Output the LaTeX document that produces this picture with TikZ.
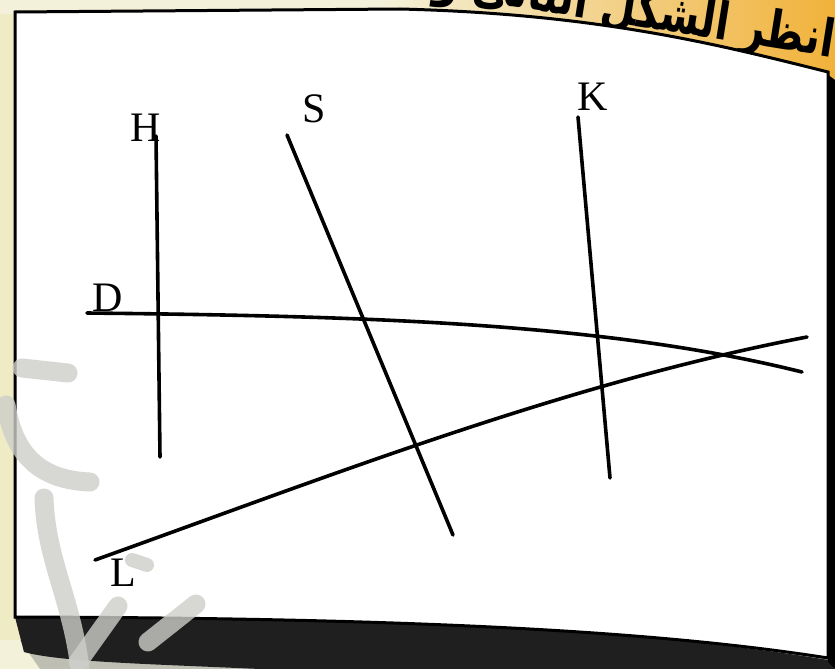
\documentclass[tikz,border=0pt]{standalone}
\usepackage{fontspec}
\usepackage{graphicx}
\setmainfont{Liberation Serif}
\newfontfamily\arabicfont[Script=Arabic]{DejaVu Sans}
\TeXXeTstate=1
\definecolor{bgcream}{HTML}{EFEBC4}
\definecolor{bgorange}{HTML}{F1B23A}
\definecolor{bglight}{HTML}{F4F1DA}
\definecolor{wmgray}{HTML}{CDCDCA}
\begin{document}
\begin{tikzpicture}[x=1pt,y=-1pt,
  geo/.style={line width=3.6pt,line cap=round},
  lbl/.style={font=\fontsize{42}{46}\selectfont,inner sep=0pt},
  wm/.style={draw=wmgray,line width=19pt,line cap=round,opacity=0.8}]
\useasboundingbox (0,0) rectangle (835,669);
% background
\fill[bgcream] (0,0) rectangle (835,669);
\shade[left color=bglight,right color=bgorange] (380,0) rectangle (835,90);
\fill[bglight] (0,0) rectangle (380,14);
\fill[bglight] (0,640) rectangle (835,669);
% header text
\node[anchor=south east,rotate=-9,inner sep=0pt,font=\arabicfont\bfseries\fontsize{40}{44}\selectfont] (head) at (830,70) {\scalebox{1}[1.3]{\beginR انظر الشكل التالى واستنتج\endR}};
% shadow under the box
\fill[black!45,opacity=0.5] (20,640) .. controls (250,660) and (600,650) .. (835,655) -- (835,669) -- (40,669) -- cycle;
\fill[black!88] (15,617) .. controls (400,618) and (650,630) .. (828,660) -- (835,669) -- (260,669) .. controls (150,664) and (60,662) .. (24,652) -- cycle;
\fill[black] (827,74) -- (835,80) -- (835,669) -- (828,662) -- cycle;
% white sheet with its border
\filldraw[fill=white,line width=3pt] (15,12) -- (400,9) .. controls (600,14) and (720,45) .. (828,72) -- (828,658) .. controls (650,630) and (400,618) .. (15,617) -- cycle;
% watermark
\draw[wm] (22,368) -- (68,373);
\draw[wm] (6,405) .. controls (14,455) and (40,480) .. (90,482);
\draw[wm] (44,498) .. controls (46,560) and (72,600) .. (80,669);
\draw[wm] (78,662) -- (118,606);
\draw[wm,line width=14pt] (132,560) -- (147,565);
\draw[wm] (148,642) -- (196,604);
% points of the figure
\coordinate (H1) at (156,136); \coordinate (H2) at (160,457);
\coordinate (S1) at (287,135); \coordinate (S2) at (453,535);
\coordinate (K1) at (578,117); \coordinate (K2) at (610,478);
\coordinate (D1) at (87,313);  \coordinate (D2) at (802,372);
\coordinate (L1) at (95,560);  \coordinate (L2) at (807,337);
% lines
\draw[geo] (H1) -- (H2);
\draw[geo] (S1) -- (S2);
\draw[geo] (K1) -- (K2);
\draw[geo] (D1) .. controls (357,316) and (602,322) .. (D2);
\draw[geo] (L1) .. controls (335,474) and (567,383) .. (L2);
% labels
\node[lbl] (lH) at (146,128) {H};
\node[lbl] (lS) at (314,109) {S};
\node[lbl] (lK) at (593,97) {K};
\node[lbl] (lD) at (108,298) {D};
\node[lbl] (lL) at (123,573) {L};
\end{tikzpicture}
\end{document}
